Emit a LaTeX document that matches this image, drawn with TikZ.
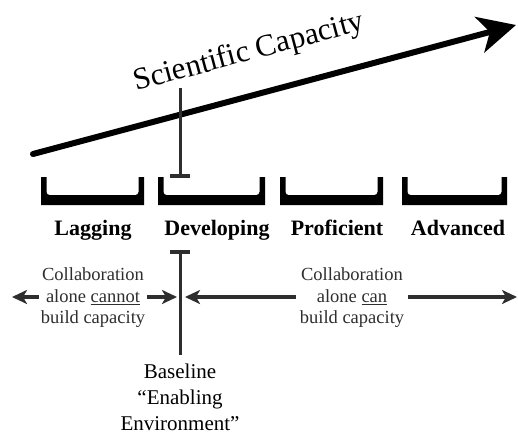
\documentclass[tikz,border=0pt]{standalone}
\usepackage{fontspec}
\setmainfont{Liberation Serif}
\usetikzlibrary{arrows.meta}
\definecolor{dk}{HTML}{2e2e2e}
\newcommand\mybracket[2]{\fill (#1,177) -- (#1,205) -- (#2,205) -- (#2,177) -- ({#2-5.5},177) [rounded corners=3pt] -- ({#2-5.5},195) -- ({#1+5.5},195) [sharp corners] -- ({#1+5.5},177) -- cycle;}
\begin{document}
\begin{tikzpicture}[x=1pt,y=-1pt,
 level/.style={font=\fontsize{22}{26}\selectfont\bfseries, inner sep=0pt, anchor=base},
 collab/.style={font=\fontsize{18.5}{21.5}\selectfont, text=dk, align=center, fill=white, inner xsep=2pt, inner ysep=0pt},
 grayarrow/.style={draw=dk, line width=3.5pt, {Stealth[length=15pt,width=14pt,inset=4pt]}-{Stealth[length=15pt,width=14pt,inset=4pt]}},
 tbar/.style={draw=dk, line width=3pt},
 ]
\useasboundingbox (0,0) rectangle (518,434);
% big arrow
\coordinate (a0) at (33,154);
\coordinate (a1) at (516,25);
\draw[line width=6pt, line cap=round, -{Stealth[length=37.5pt,width=36.5pt,inset=10.5pt]}] (a0) -- (a1);
\node[rotate=15, font=\fontsize{31}{36}\selectfont] (sc) at (249,53) {Scientific Capacity};
% upper T line
\coordinate (v1) at (180,88);
\coordinate (v2) at (180,178);
\draw[tbar, -{Bar[width=20pt,line width=4pt]}] (v1) -- (v2);
% brackets
\mybracket{41}{144}
\mybracket{158}{265}
\mybracket{280}{383}
\mybracket{402}{507}
% level labels
\node[level] (lag) at (93,235) {Lagging};
\node[level] (dev) at (217,235) {Developing};
\node[level] (prof) at (337,235) {Proficient};
\node[level] (adv) at (458,235) {Advanced};
% lower T line
\coordinate (b1) at (180,250);
\coordinate (b2) at (180,355);
\draw[tbar, {Bar[width=20pt,line width=4pt]}-] (b1) -- (b2);
\node[font=\fontsize{21}{26}\selectfont, align=center, anchor=north, inner sep=0pt] (base) at (180,364) {Baseline\\``Enabling\\Environment''};
% collaboration arrows
\coordinate (l0) at (12,297);
\coordinate (l1) at (177,297);
\draw[grayarrow] (l0) -- (l1);
\node[collab] (c1) at (93,298) {Collaboration\\alone \underline{cannot}\\build capacity};
\coordinate (r0) at (185,297);
\coordinate (r1) at (517,297);
\draw[grayarrow] (r0) -- (r1);
\node[collab, inner xsep=4pt] (c2) at (352,298) {Collaboration\\alone \underline{can}\\build capacity};
\end{tikzpicture}
\end{document}
